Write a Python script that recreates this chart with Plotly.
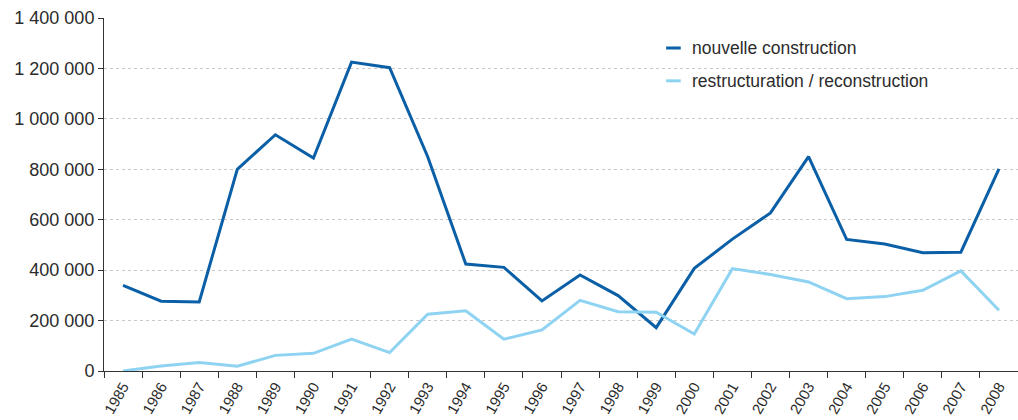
import plotly.graph_objects as go

years = [str(y) for y in range(1985, 2009)]

nouvelle_construction = [
    340000, 277000, 274000, 800000, 937000, 845000, 1225000, 1203000,
    850000, 424000, 411000, 278000, 381000, 299000, 172000, 407000,
    523000, 627000, 850000, 522000, 504000, 469000, 471000, 802000,
]
restructuration = [
    0, 20000, 34000, 19000, 62000, 70000, 127000, 73000,
    225000, 239000, 126000, 163000, 280000, 235000, 233000, 147000,
    406000, 383000, 353000, 287000, 295000, 320000, 397000, 241000,
]

series_names = ["nouvelle construction", "restructuration / reconstruction"]
series_colors = ["#0a5fa6", "#8fd3f2"]

Y_TICK_FONT = dict(family="Liberation Sans, Arial, sans-serif", size=18, color="#2b2b2b")
X_TICK_FONT = dict(family="Liberation Sans, Arial, sans-serif", size=15, color="#2b2b2b")
LEGEND_FONT = dict(family="Liberation Sans, Arial, sans-serif", size=17.5, color="#2b2b2b")

fig = go.Figure()
for name, vals, col in zip(series_names, [nouvelle_construction, restructuration], series_colors):
    fig.add_trace(go.Scatter(
        x=years, y=vals, name=name, mode="lines",
        line=dict(color=col, width=3), showlegend=False,
    ))

# hand-placed legend: short coloured strokes followed by the series names
legend_y = [0.915, 0.822]
for name, col, ly in zip(series_names, series_colors, legend_y):
    fig.add_shape(type="line", xref="paper", yref="paper",
                  x0=0.615, x1=0.631, y0=ly, y1=ly,
                  line=dict(color=col, width=3))
    fig.add_annotation(xref="paper", yref="paper", x=0.641, y=ly,
                       text=name, showarrow=False, xanchor="left", yanchor="middle",
                       font=LEGEND_FONT)

fig.update_layout(
    width=1018, height=420,
    margin=dict(l=104, r=0, t=18, b=49),
    paper_bgcolor="white", plot_bgcolor="white",
    separators=", ",
    showlegend=False,
)

fig.update_xaxes(
    type="category",
    range=[-0.5, len(years) - 0.5],
    tickson="boundaries",
    ticks="outside", ticklen=6, tickcolor="#333333", tickwidth=1,
    showline=True, linecolor="#333333", linewidth=1,
    showgrid=False,
    tickangle=-60,
    tickfont=X_TICK_FONT,
    automargin=False,
)

fig.update_yaxes(
    range=[0, 1400000],
    tickvals=[0, 200000, 400000, 600000, 800000, 1000000, 1200000, 1400000],
    tickformat=",d",
    ticks="outside", ticklen=5, tickcolor="#333333", tickwidth=1,
    showline=True, linecolor="#333333", linewidth=1,
    showgrid=True, gridcolor="#c8c8c8", gridwidth=1, griddash="3px,3px",
    zeroline=False,
    tickfont=Y_TICK_FONT,
    automargin=False,
)

fig.write_html("out.html")
